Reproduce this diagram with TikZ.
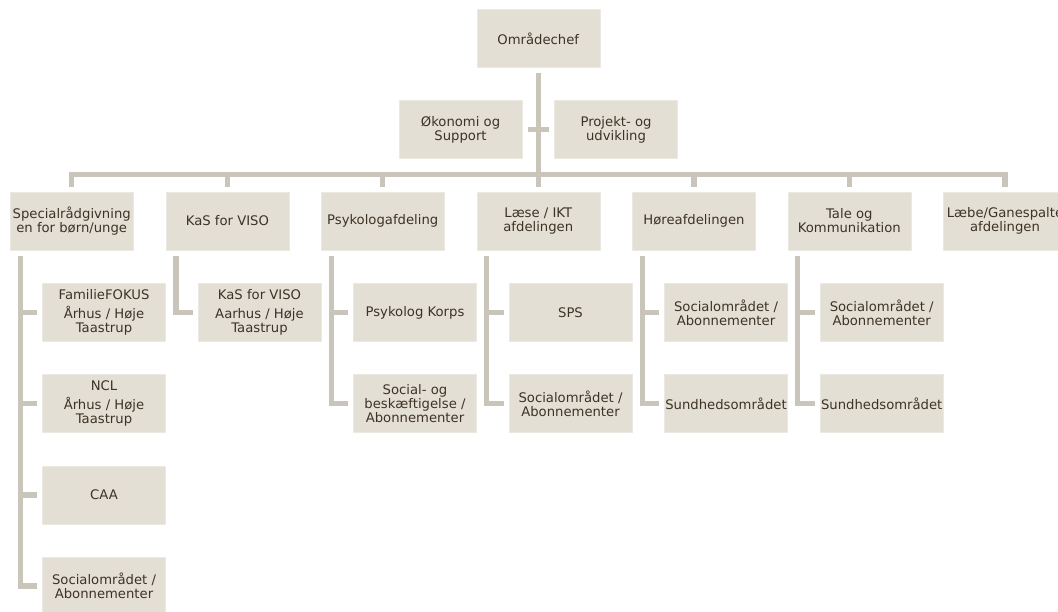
\documentclass[tikz,border=0pt]{standalone}
\usepackage{fontspec}
\setmainfont{DejaVu Sans}
\definecolor{boxfill}{HTML}{E3DFD5}
\definecolor{boxedge}{HTML}{ECE9E2}
\definecolor{linecol}{HTML}{C9C5BA}
\definecolor{txt}{HTML}{3D3324}
\begin{document}
\begin{tikzpicture}[x=1pt,y=-1pt,
  box/.style={fill=boxfill, draw=boxedge, line width=0.6pt, minimum width=123pt, minimum height=58pt,
    inner sep=0pt, outer sep=5.5pt, align=center, text=txt, font=\fontsize{13.2}{14}\selectfont},
  conn/.style={draw=linecol, line width=5.3pt}]
\useasboundingbox (0,0) rectangle (1058,611);
% top
\node[box] (top) at (538.3,38.5) {Områdechef};
\node[box] (oek) at (460.5,129.7) {Økonomi og\\Support};
\node[box] (prj) at (616,129.5) {Projekt- og\\udvikling};
% level 1
\node[box] (sp)  at (71.7,221)  {Specialrådgivning\\en for børn/unge};
\node[box] (kas) at (227.4,221) {KaS for VISO};
\node[box] (psy) at (382.7,221) {Psykologafdeling};
\node[box] (lae) at (538.3,221) {Læse / IKT\\afdelingen};
\node[box] (hor) at (694,221)   {Høreafdelingen};
\node[box] (tal) at (849.3,221) {Tale og\\Kommunikation};
\node[box] (lab) at (1005,221)  {Læbe/Ganespalte\\afdelingen};
% level 2
\node[box] (sp1) at (104,312.5) {FamilieFOKUS\\[5pt]Århus / Høje\\Taastrup};
\node[box] (sp2) at (104,403.5) {NCL\\[5pt]Århus / Høje\\Taastrup};
\node[box] (sp3) at (104,495)   {CAA};
\node[box] (sp4) at (104,586)   {Socialområdet /\\Abonnementer};
\node[box] (kas1) at (259.5,312.5) {KaS for VISO\\[5pt]Aarhus / Høje\\Taastrup};
\node[box] (psy1) at (415,312.5) {Psykolog Korps};
\node[box] (psy2) at (415,403.5) {Social- og\\beskæftigelse /\\Abonnementer};
\node[box] (lae1) at (570.5,312.5) {SPS};
\node[box] (lae2) at (570.5,403.5) {Socialområdet /\\Abonnementer};
\node[box] (hor1) at (726,312.5) {Socialområdet /\\Abonnementer};
\node[box] (hor2) at (726,403.5) {Sundhedsområdet};
\node[box] (tal1) at (881.7,312.5) {Socialområdet /\\Abonnementer};
\node[box] (tal2) at (881.7,403.5) {Sundhedsområdet};
% connectors
\coordinate (bar) at (0,174.5);
\draw[conn] (top.south) -- (top.south |- bar);
\draw[conn] (oek.east) -- (oek.east -| prj.west);
\draw[conn] (sp.north) -- (sp.north |- bar) -- (lab.north |- bar) -- (lab.north);
\foreach \n in {kas,psy,lae,hor,tal} \draw[conn] (\n.north) -- (\n.north |- bar);
% child lines
\coordinate (spL)  at ([xshift=-51.5pt]sp.south);
\coordinate (kasL) at ([xshift=-51.5pt]kas.south);
\coordinate (psyL) at ([xshift=-51.5pt]psy.south);
\coordinate (laeL) at ([xshift=-51.5pt]lae.south);
\coordinate (horL) at ([xshift=-51.5pt]hor.south);
\coordinate (talL) at ([xshift=-51.5pt]tal.south);
\draw[conn] (spL) |- (sp4.west);
\draw[conn] (spL |- sp1.west) -- (sp1.west);
\draw[conn] (spL |- sp2.west) -- (sp2.west);
\draw[conn] (spL |- sp3.west) -- (sp3.west);
\draw[conn] (kasL) |- (kas1.west);
\draw[conn] (psyL) |- (psy2.west);
\draw[conn] (psyL |- psy1.west) -- (psy1.west);
\draw[conn] (laeL) |- (lae2.west);
\draw[conn] (laeL |- lae1.west) -- (lae1.west);
\draw[conn] (horL) |- (hor2.west);
\draw[conn] (horL |- hor1.west) -- (hor1.west);
\draw[conn] (talL) |- (tal2.west);
\draw[conn] (talL |- tal1.west) -- (tal1.west);
\end{tikzpicture}
\end{document}
